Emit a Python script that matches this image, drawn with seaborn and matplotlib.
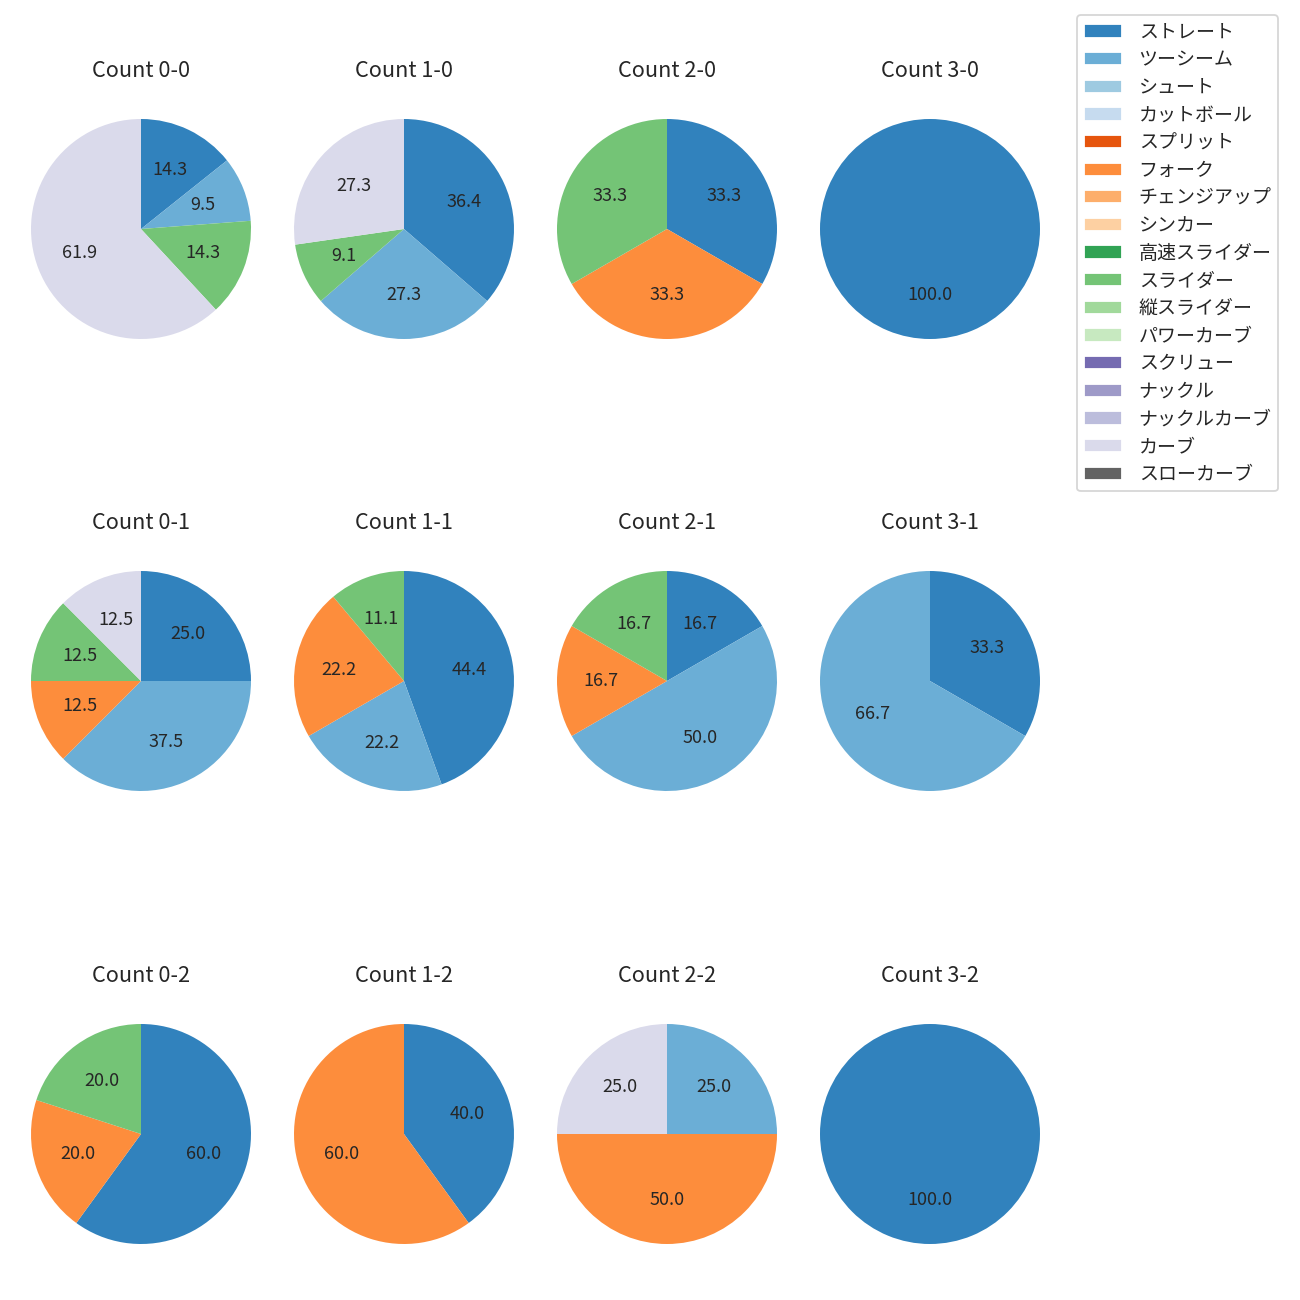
import matplotlib
matplotlib.use("Agg")
import matplotlib.pyplot as plt
from matplotlib.patches import Patch
import seaborn as sns

sns.set_style("white")
plt.rcParams['font.family'] = ['Noto Sans CJK JP', 'DejaVu Sans']

pitch_types = ["ストレート", "ツーシーム", "シュート", "カットボール", "スプリット", "フォーク",
               "チェンジアップ", "シンカー", "高速スライダー", "スライダー", "縦スライダー",
               "パワーカーブ", "スクリュー", "ナックル", "ナックルカーブ", "カーブ", "スローカーブ"]

count_labels = ["0-0", "1-0", "2-0", "3-0",
                "0-1", "1-1", "2-1", "3-1",
                "0-2", "1-2", "2-2", "3-2"]

# pitch counts per count situation (order of count_labels)
straight   = [3, 4, 1, 1, 2, 4, 1, 1, 3, 2, 0, 1]
twoseam    = [2, 3, 0, 0, 3, 2, 3, 2, 0, 0, 1, 0]
fork       = [0, 0, 1, 0, 1, 2, 1, 0, 1, 3, 2, 0]
slider     = [3, 1, 1, 0, 1, 1, 1, 0, 1, 0, 0, 0]
curve      = [13, 3, 0, 0, 1, 0, 0, 0, 0, 0, 1, 0]

series = {
    "ストレート": straight,
    "ツーシーム": twoseam,
    "フォーク": fork,
    "スライダー": slider,
    "カーブ": curve,
}

colors = sns.color_palette("tab20c", 20)[:17]
color_map = dict(zip(pitch_types, colors))

fig = plt.figure(figsize=(10, 10), dpi=130)
W, H = 1300.0, 1300.0
size = 275.0
col_centers = [141, 404, 667, 930]
row_centers = [229, 681, 1134]

for i, cl in enumerate(count_labels):
    r, c = divmod(i, 4)
    cx, cy = col_centers[c], row_centers[r]
    ax = fig.add_axes([(cx - size / 2) / W, 1 - (cy + size / 2) / H, size / W, size / H])
    vals, cols = [], []
    for p in pitch_types:
        if p in series and series[p][i] > 0:
            vals.append(series[p][i])
            cols.append(color_map[p])
    ax.pie(vals, colors=cols, startangle=90, counterclock=False,
           autopct='%.1f', textprops={'fontsize': 10},
           wedgeprops={'linewidth': 0})
    ax.set_title(f"Count {cl}", fontsize=12, pad=8)

handles = [Patch(facecolor=color_map[p], label=p) for p in pitch_types]
fig.legend(handles=handles, loc='upper left', bbox_to_anchor=(1077 / W, 1 - 15 / H),
           borderaxespad=0, fontsize=10.5, labelspacing=0.35, handletextpad=0.9,
           borderpad=0.35)

fig.savefig("out.png", dpi=130)
